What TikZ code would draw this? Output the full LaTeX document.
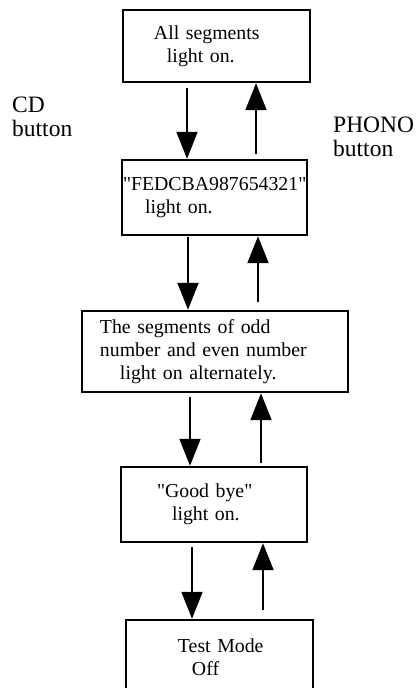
\documentclass[tikz,border=0pt]{standalone}
\usepackage{fontspec}
\setmainfont{Liberation Serif}
\usetikzlibrary{arrows.meta}
\setlength{\parindent}{0pt}
\newlength{\du}
\setlength{\du}{15\unitlength}
\definecolor{dialinecolor}{rgb}{0.000000, 0.000000, 0.000000}
\tikzset{
  statebox/.style={draw=dialinecolor, line width=2.4pt, inner sep=0pt, align=left,
    font=\fontsize{19.8}{23}\selectfont},
  keylabel/.style={anchor=north west, inner sep=0pt, align=left,
    font=\fontsize{23.5}{24}\selectfont},
  flow/.style={draw=dialinecolor, line width=2pt, -{Triangle[length=27pt,width=21pt]}}
}
\begin{document}
\begin{tikzpicture}
\useasboundingbox (0\du,0\du) rectangle (27.800\du,-45.867\du);
\clip (0\du,0\du) rectangle (27.800\du,-45.867\du);
% boxes
\node[statebox, text width=12.467\du, minimum height=4.800\du] (allon) at (14.433\du,-3.067\du)
  {\hspace*{31pt}All segments\\\hspace*{44pt}light on.};
\node[statebox, text width=12.333\du, minimum height=5.000\du] (hexon) at (14.300\du,-13.167\du)
  {\hspace*{1pt}\mbox{\textquotedbl FEDCBA987654321\textquotedbl}\\\hspace*{23pt}light on.};
\node[statebox, text width=17.733\du, minimum height=5.400\du] (oddeven) at (14.333\du,-23.433\du)
  {\hspace*{18pt}The segments of odd\\\hspace*{18pt}number and even number\\\hspace*{38pt}light on alternately.};
\node[statebox, text width=12.400\du, minimum height=5.000\du] (goodbye) at (14.267\du,-33.633\du)
  {\hspace*{36pt}\mbox{\textquotedbl Good bye\textquotedbl}\\\hspace*{51pt}light on.};
\node[statebox, text width=12.467\du, minimum height=5.000\du] (testoff) at (14.633\du,-43.833\du)
  {\hspace*{52pt}Test Mode\\\hspace*{66pt}Off};
% button labels
\node[keylabel] (cdkey) at (0.800\du,-6.467\du) {CD\\button};
\node[keylabel] (phonokey) at (22.200\du,-7.800\du) {PHONO\\button};
% CD button goes down
\coordinate (d1) at (12.467\du,-5.867\du);
\coordinate (d2) at (12.533\du,-15.800\du);
\coordinate (d3) at (12.667\du,-26.467\du);
\coordinate (d4) at (12.800\du,-36.467\du);
\draw[flow] (d1) -- (d1 |- hexon.north);
\draw[flow] (d2) -- (d2 |- oddeven.north);
\draw[flow] (d3) -- (d3 |- goodbye.north);
\draw[flow] (d4) -- (d4 |- testoff.north);
% PHONO button goes up
\coordinate (u1) at (17.067\du,-10.267\du);
\coordinate (u2) at (17.200\du,-20.133\du);
\coordinate (u3) at (17.400\du,-30.867\du);
\coordinate (u4) at (17.533\du,-40.667\du);
\draw[flow] (u1) -- (u1 |- allon.south);
\draw[flow] (u2) -- (u2 |- hexon.south);
\draw[flow] (u3) -- (u3 |- oddeven.south);
\draw[flow] (u4) -- (u4 |- goodbye.south);
\end{tikzpicture}
\end{document}
